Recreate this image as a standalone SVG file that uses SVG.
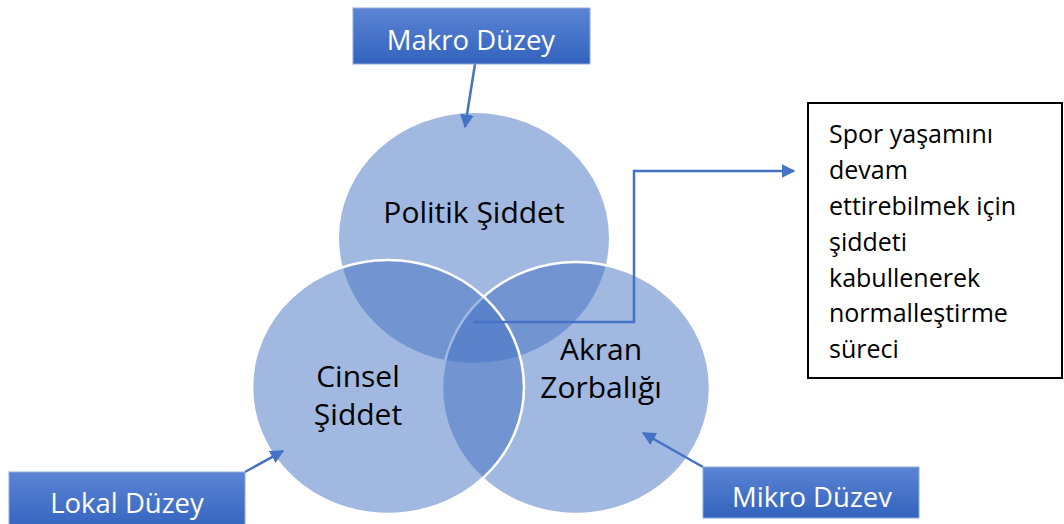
<svg xmlns="http://www.w3.org/2000/svg" width="1064" height="524" viewBox="0 0 1064 524">
<defs>
<linearGradient id="lbl" x1="0" y1="0" x2="0" y2="1">
<stop offset="0" stop-color="#5B84D4"/>
<stop offset="1" stop-color="#3363BE"/>
</linearGradient>
<marker id="ah" viewBox="0 0 10 10" refX="9" refY="5" markerWidth="5.5" markerHeight="5.5" orient="auto" markerUnits="strokeWidth">
<path d="M0,0 L10,5 L0,10 z" fill="#4472C4"/>
</marker>
<style>
.c{fill:#4472C4;fill-opacity:0.5}
.cs{stroke:#FFFFFF;stroke-width:2.5}
.t{font-family:"Open Sans","Noto Sans",sans-serif;font-size:30px;fill:#000;text-anchor:middle}
.lb{fill:url(#lbl);stroke:#8FAADC;stroke-width:1}
.lt{font-family:"Open Sans","Noto Sans",sans-serif;font-size:27.5px;fill:#FFF;text-anchor:middle}
.bt{font-family:"Open Sans","Noto Sans",sans-serif;font-size:25px;fill:#000}
.ln{fill:none;stroke:#4472C4;stroke-width:2.5}
</style>
</defs>
<g id="circle-politik">
<ellipse class="c" cx="474" cy="238" rx="135" ry="125"/>
</g>
<g id="circle-akran">
<ellipse class="c cs" cx="576" cy="388" rx="134" ry="126"/>
</g>
<g id="circle-cinsel">
<ellipse class="c cs" cx="388" cy="387" rx="136" ry="127"/>
</g>
<g id="texts-circles">
<text class="t" x="474" y="223">Politik Şiddet</text>
<text class="t" x="358" y="387">Cinsel</text>
<text class="t" x="358" y="425">Şiddet</text>
<text class="t" x="601" y="360">Akran</text>
<text class="t" x="601" y="398">Zorbalığı</text>
</g>
<g id="connectors">
<line class="ln" x1="475" y1="64" x2="465" y2="127" marker-end="url(#ah)"/>
<line class="ln" x1="245" y1="472" x2="283" y2="451" marker-end="url(#ah)"/>
<line class="ln" x1="703" y1="467" x2="643" y2="433" marker-end="url(#ah)"/>
<polyline class="ln" points="473,322 634,322 634,171 794,171" marker-end="url(#ah)"/>
</g>
<g id="label-makro">
<rect class="lb" x="353" y="8" width="237" height="56"/>
<text class="lt" x="471" y="50">Makro Düzey</text>
</g>
<g id="label-lokal">
<rect class="lb" x="9" y="472" width="236" height="60"/>
<text class="lt" x="127" y="513">Lokal Düzey</text>
</g>
<g id="label-mikro">
<rect class="lb" x="703" y="467" width="216" height="51"/>
<text class="lt" x="812" y="507">Mikro Düzev</text>
</g>
<g id="note-box">
<rect x="808" y="103" width="254" height="275" fill="#FFF" stroke="#000" stroke-width="2"/>
<text class="bt" x="829" y="143">Spor yaşamını</text>
<text class="bt" x="829" y="179">devam</text>
<text class="bt" x="829" y="215">ettirebilmek için</text>
<text class="bt" x="829" y="251">şiddeti</text>
<text class="bt" x="829" y="287">kabullenerek</text>
<text class="bt" x="829" y="322">normalleştirme</text>
<text class="bt" x="829" y="358">süreci</text>
</g>
</svg>
